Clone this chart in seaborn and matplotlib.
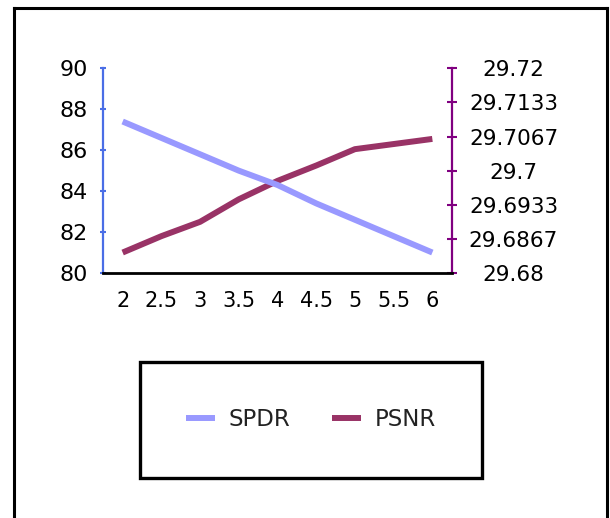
import matplotlib
matplotlib.use("Agg")
import matplotlib.pyplot as plt
import seaborn as sns
from matplotlib.patches import Rectangle
from matplotlib.lines import Line2D

# ---- data ----
x_vals = [2, 2.5, 3, 3.5, 4, 4.5, 5, 5.5, 6]
x_labels = ["2", "2.5", "3", "3.5", "4", "4.5", "5", "5.5", "6"]
spdr = [87.4, 86.6, 85.8, 85.0, 84.3, 83.4, 82.6, 81.8, 81.0]
psnr = [29.684, 29.6872, 29.690, 29.6944, 29.698, 29.701, 29.7042, 29.7052, 29.7062]
left_ticks = [80, 82, 84, 86, 88, 90]
right_ticks = [29.68, 29.68 + 0.04 / 6, 29.68 + 0.08 / 6, 29.70,
               29.68 + 0.16 / 6, 29.68 + 0.20 / 6, 29.72]
right_labels = ["29.68", "29.6867", "29.6933", "29.7", "29.7067", "29.7133", "29.72"]

sns.set_style("white")
plt.rcParams['font.family'] = ['DejaVu Sans']

W, H = 610, 518
fig = plt.figure(figsize=(W / 100, H / 100), dpi=100)
ax = fig.add_axes([103.3 / W, 1 - 273 / H, (451.7 - 103.3) / W, (273 - 68.3) / H])
ax2 = ax.twinx()

sns.lineplot(x=x_vals, y=spdr, ax=ax, color='#9999FF', linewidth=4.3,
             label='SPDR', legend=False, solid_capstyle='butt')
sns.lineplot(x=x_vals, y=psnr, ax=ax2, color='#993366', linewidth=4.3,
             label='PSNR', legend=False, solid_capstyle='butt')
ax.set_zorder(ax2.get_zorder() + 1)
ax.patch.set_visible(False)

ax.set_xlim(1.75, 6.25)
ax.set_xticks(x_vals)
ax.set_xticklabels(x_labels)
ax.set_ylim(80, 90)
ax.set_yticks(left_ticks)
ax.set_xlabel("")
ax.set_ylabel("")
ax2.set_ylabel("")
ax.grid(False)
ax2.grid(False)

ax.tick_params(axis='x', length=0, pad=13, labelsize=15, colors='black')
ax.tick_params(axis='y', direction='inout', length=4, width=1.5,
               color='#4A6EE6', pad=9, labelsize=16, labelcolor='black')

ax2.set_ylim(29.68, 29.72)
ax2.set_yticks(right_ticks)
ax2.set_yticklabels(right_labels)
ax2.tick_params(axis='y', direction='inout', length=7, width=1.5,
                color='#800080', pad=41, labelsize=15.5, labelcolor='black')
for t in ax2.get_yticklabels():
    t.set_horizontalalignment('center')

for s in ['top', 'right']:
    ax.spines[s].set_visible(False)
ax.spines['left'].set_color('#4A6EE6')
ax.spines['left'].set_linewidth(1.6)
ax.spines['bottom'].set_color('black')
ax.spines['bottom'].set_linewidth(2)
for s in ['top', 'left', 'bottom']:
    ax2.spines[s].set_visible(False)
ax2.spines['right'].set_color('#800080')
ax2.spines['right'].set_linewidth(1.6)

# outer border (open at bottom)
lw_b = 2.2
fig.add_artist(Line2D([14 / W, 14 / W], [-0.02, 1 - 8 / H], transform=fig.transFigure,
                      color='black', linewidth=lw_b, solid_capstyle='projecting'))
fig.add_artist(Line2D([14 / W, 607 / W], [1 - 8 / H, 1 - 8 / H], transform=fig.transFigure,
                      color='black', linewidth=lw_b, solid_capstyle='projecting'))
fig.add_artist(Line2D([607 / W, 607 / W], [-0.02, 1 - 8 / H], transform=fig.transFigure,
                      color='black', linewidth=lw_b, solid_capstyle='projecting'))

# legend box
fig.add_artist(Rectangle((140 / W, 1 - 478 / H), (482 - 140) / W, (478 - 362) / H,
                         transform=fig.transFigure, fill=False, edgecolor='black',
                         linewidth=2.4))
handles = [ax.get_lines()[0], ax2.get_lines()[0]]
fig.legend(handles, ['SPDR', 'PSNR'], loc='center',
           bbox_to_anchor=(311 / W, 1 - 420 / H), ncol=2, frameon=False,
           fontsize=16.5, handlelength=1.25, handletextpad=0.6, columnspacing=1.85,
           labelcolor='#222222')

fig.savefig('out.png', dpi=100)
